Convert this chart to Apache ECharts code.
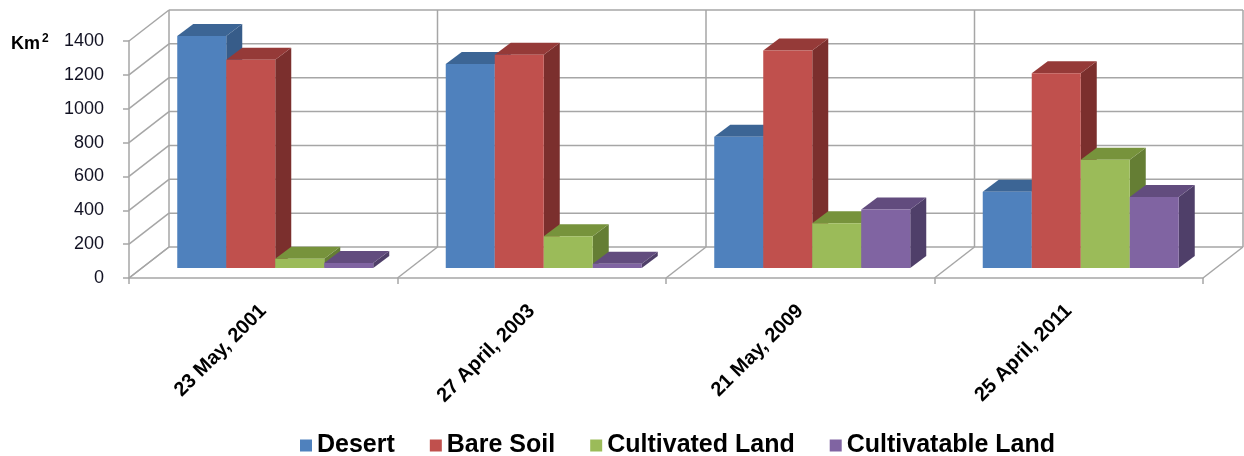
<!DOCTYPE html>
<html>
<head>
<meta charset="utf-8">
<script src="https://cdn.jsdelivr.net/npm/echarts@6/dist/echarts.min.js"></script>
<style>
html,body{margin:0;padding:0;background:#fff;}
#main{width:1244px;height:456px;}
</style>
</head>
<body>
<div id="main"></div>
<script>
const categories = ['23 May, 2001', '27 April, 2003', '21 May, 2009', '25 April, 2011'];
const seriesNames = ['Desert', 'Bare Soil', 'Cultivated Land', 'Cultivatable Land'];
const desert = [1370, 1205, 775, 450];
const bareSoil = [1230, 1260, 1285, 1150];
const cultivated = [55, 187, 265, 640];
const cultivatable = [30, 25, 345, 420];
const yMin = 0, yMax = 1400, yStep = 200;

const seriesValues = [desert, bareSoil, cultivated, cultivatable];
const faceColors = [
  {front: '#4F81BD', top: '#3C6595', side: '#375C89'},
  {front: '#C0504D', top: '#953A38', side: '#7B2F2D'},
  {front: '#9BBB59', top: '#77933C', side: '#657E34'},
  {front: '#8064A2', top: '#624C7E', side: '#4F3F69'}
];

// 3D projection style constants (pixels)
const WALL_DX = 40, WALL_DY = -31;   // floor depth
const BAR_OX = 12, BAR_OY = -10;     // bar front plane offset
const BAR_DX = 16, BAR_DY = -12;     // bar depth
const GROUP_FRAC = 0.73;
const GRID_COLOR = '#A6A6A6';
const FONT = 'Liberation Sans, Arial, sans-serif';

const chart = echarts.init(document.getElementById('main'));

function frameRender(params, api) {
  const children = [];
  const p0 = api.coord([0, yMin]);
  const band = api.size([1, 0])[0];
  const left = p0[0] - band / 2;
  const right = api.coord([categories.length - 1, yMin])[0] + band / 2;
  const yBottom = p0[1];
  const yTop = api.coord([0, yMax])[1];
  const ls = {stroke: GRID_COLOR, lineWidth: 1.5};
  for (let v = yMin; v <= yMax; v += yStep) {
    const y = api.coord([0, v])[1];
    children.push({type: 'line', shape: {x1: left, y1: y, x2: left + WALL_DX, y2: y + WALL_DY}, style: ls});
    children.push({type: 'line', shape: {x1: left + WALL_DX, y1: y + WALL_DY, x2: right + WALL_DX, y2: y + WALL_DY}, style: ls});
  }
  for (let k = 0; k <= categories.length; k++) {
    const bx = left + k * band;
    children.push({type: 'line', shape: {x1: bx, y1: yBottom, x2: bx + WALL_DX, y2: yBottom + WALL_DY}, style: ls});
    children.push({type: 'line', shape: {x1: bx + WALL_DX, y1: yBottom + WALL_DY, x2: bx + WALL_DX, y2: yTop + WALL_DY}, style: ls});
  }
  return {type: 'group', children: children, silent: true};
}

function barRender(params, api) {
  const si = params.seriesIndex - 1;
  const cat = api.value(0);
  const val = api.value(1);
  const base = api.coord([cat, 0]);
  const topP = api.coord([cat, val]);
  const band = api.size([1, 0])[0];
  const groupW = band * GROUP_FRAC;
  const bw = groupW / seriesValues.length;
  const x0 = base[0] - groupW / 2 + si * bw + BAR_OX;
  const x1 = x0 + bw;
  const yb = base[1] + BAR_OY;
  const yt = topP[1] + BAR_OY;
  const c = faceColors[si];
  return {
    type: 'group',
    children: [
      {type: 'polygon', shape: {points: [[x1, yb], [x1 + BAR_DX, yb + BAR_DY], [x1 + BAR_DX, yt + BAR_DY], [x1, yt]]}, style: {fill: c.side}},
      {type: 'polygon', shape: {points: [[x0, yt], [x1, yt], [x1 + BAR_DX, yt + BAR_DY], [x0 + BAR_DX, yt + BAR_DY]]}, style: {fill: c.top}},
      {type: 'rect', shape: {x: x0, y: yt, width: bw, height: yb - yt}, style: {fill: c.front}}
    ]
  };
}

const series = [{
  type: 'custom',
  name: 'frame',
  renderItem: frameRender,
  data: [[0, 0]],
  z: 1,
  silent: true,
  tooltip: {show: false}
}];
seriesValues.forEach((vals, i) => {
  series.push({
    type: 'custom',
    name: seriesNames[i],
    renderItem: barRender,
    itemStyle: {color: faceColors[i].front},
    data: vals.map((v, j) => [j, v]),
    encode: {x: 0, y: 1},
    z: 2 + i
  });
});

chart.setOption({
  animation: false,
  backgroundColor: '#fff',
  grid: {left: 129, right: 41, top: 41, bottom: 178},
  xAxis: {
    type: 'category',
    data: categories,
    boundaryGap: true,
    axisLine: {show: true, lineStyle: {color: GRID_COLOR, width: 1.5}},
    axisTick: {show: true, length: 6, lineStyle: {color: GRID_COLOR, width: 1.5}},
    splitLine: {show: false},
    axisLabel: {
      rotate: 45,
      margin: 30,
      fontFamily: FONT,
      fontWeight: 'bold',
      fontSize: 20,
      color: '#000'
    }
  },
  yAxis: {
    type: 'value',
    min: yMin, max: yMax, interval: yStep,
    axisLine: {show: true, lineStyle: {color: GRID_COLOR, width: 1.5}},
    axisTick: {show: true, length: 6, lineStyle: {color: GRID_COLOR, width: 1.5}},
    splitLine: {show: false},
    axisLabel: {
      margin: 25,
      formatter: (v) => String(v),
      fontFamily: FONT,
      fontSize: 18,
      color: '#111122'
    }
  },
  legend: {
    data: seriesNames,
    left: 295,
    top: 428,
    icon: 'rect',
    itemWidth: 12,
    itemHeight: 12,
    itemGap: 35,
    textStyle: {fontFamily: FONT, fontWeight: 'bold', fontSize: 25, color: '#000'}
  },
  graphic: [{
    type: 'text',
    left: 11,
    top: 33,
    style: {
      text: '{a|Km}{b|2}',
      rich: {
        a: {fontFamily: FONT, fontWeight: 'bold', fontSize: 18, fill: '#000', verticalAlign: 'bottom'},
        b: {fontFamily: FONT, fontWeight: 'bold', fontSize: 12, fill: '#000', padding: [0, 0, 8, 2], verticalAlign: 'bottom'}
      }
    }
  }],
  series: series
});
</script>
</body>
</html>
